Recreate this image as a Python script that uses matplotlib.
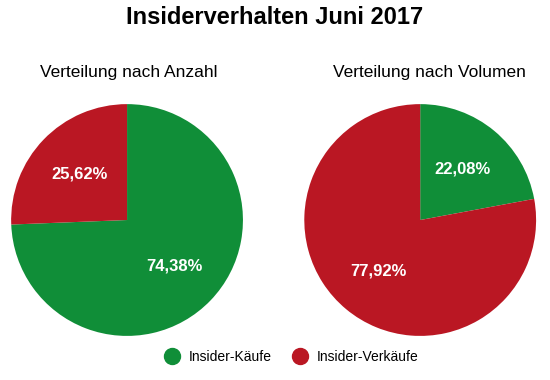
import matplotlib.pyplot as plt
from matplotlib.lines import Line2D

plt.rcParams['font.family'] = ['Liberation Sans Narrow', 'Liberation Sans', 'DejaVu Sans']

labels = ['Insider-Käufe', 'Insider-Verkäufe']
colors = ['#108e38', '#ba1723']
anzahl = [74.38, 25.62]
volumen = [22.08, 77.92]
subtitles = ['Verteilung nach Anzahl', 'Verteilung nach Volumen']


def pct(v):
    return f'{v:.2f}%'.replace('.', ',')


fig = plt.figure(figsize=(5.5, 3.8), dpi=100)
fig.text(0.5, 0.955, 'Insiderverhalten Juni 2017', ha='center', va='center',
         fontsize=17, fontweight='bold')

boxes = [[0.02, 0.116, 0.422, 0.61], [0.553, 0.116, 0.422, 0.61]]
sub_x = [0.235, 0.78]
for box, data, sub, sx in zip(boxes, [anzahl, volumen], subtitles, sub_x):
    ax = fig.add_axes(box)
    wedges, texts, autos = ax.pie(data, colors=colors, startangle=90, counterclock=False,
                                  autopct=pct, pctdistance=0.57, radius=1,
                                  wedgeprops=dict(linewidth=0))
    for t in autos:
        t.set_color('white')
        t.set_fontsize(12)
        t.set_fontweight('bold')
    ax.set_xlim(-1, 1)
    ax.set_ylim(-1, 1)
    ax.set_aspect('equal')
    fig.text(sx, 0.808, sub, ha='center', va='center', fontsize=12.5)

handles = [Line2D([], [], marker='o', linestyle='', markersize=11.5, color=c) for c in colors]
fig.legend(handles, labels, loc='center', bbox_to_anchor=(0.524, 0.06), ncol=2,
           frameon=False, fontsize=10, handletextpad=0.2, columnspacing=1.0)

fig.savefig('out.png', dpi=100)
